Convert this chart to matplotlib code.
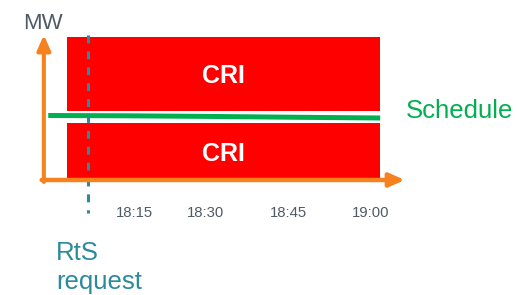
import numpy as np
import matplotlib
matplotlib.use('Agg')
import matplotlib.pyplot as plt

plt.rcParams['font.family'] = ['Liberation Sans', 'DejaVu Sans']

# x in minutes after 18:00, y in MW (arbitrary)
cri_blocks = [(0.0, 5.7), (6.93, 14.3)]   # (bottom, top)
cri_start, cri_end = 4.45, 61.7
schedule_t = [1.0, 15.0, 30.0, 45.0, 61.7]
schedule_mw = [6.45, 6.42, 6.36, 6.28, 6.2]
rts_time = 8.3
tick_pos = [16.8, 29.8, 45.0, 60.0]
tick_labels = ['18:15', '18:30', '18:45', '19:00']

orange = '#f5821f'
red = '#ff0000'
green = '#00b050'
teal = '#2b8a9b'
grey = '#4f5a64'

fig = plt.figure(figsize=(5.18, 2.95), dpi=100)
ax = fig.add_axes([0, 0, 1, 1])
ax.set_xlim(-7.82, 86.9)
ax.set_ylim(-11.5, 18.0)
ax.axis('off')

for bottom, top in cri_blocks:
    ax.bar(cri_start, top - bottom, width=cri_end - cri_start, bottom=bottom,
           align='edge', color=red, zorder=1)
    ax.text((cri_start + cri_end) / 2, (bottom + top) / 2, 'CRI', color='white',
            fontsize=18, fontweight='bold', ha='center', va='center_baseline', zorder=5)

ax.plot(schedule_t, schedule_mw, color=green, lw=3.6, solid_capstyle='butt', zorder=2)
ax.text(66.4, 6.2, 'Schedule', color=green, fontsize=18.5, ha='left', va='baseline')

ax.plot([rts_time, rts_time], [14.5, -3.3], color=teal, lw=2.2, dashes=(2.6, 2.6), zorder=3)
ax.text(2.4, -8.0, 'RtS', color=teal, fontsize=18.5, ha='left', va='baseline')
ax.text(2.4, -10.85, 'request', color=teal, fontsize=18.5, ha='left', va='baseline')

# axes arrows
ax.annotate('', xy=(0.2, 14.5), xytext=(0.2, -0.2),
            arrowprops=dict(arrowstyle='-|>,head_length=0.45,head_width=0.2',
                            color=orange, lw=2.9, mutation_scale=20,
                            shrinkA=0, shrinkB=0), zorder=4)
ax.annotate('', xy=(66.2, 0.0), xytext=(-0.2, 0.0),
            arrowprops=dict(arrowstyle='-|>,head_length=0.45,head_width=0.2',
                            color=orange, lw=3.2, mutation_scale=20,
                            shrinkA=0, shrinkB=0), zorder=4)
ax.text(-3.6, 15.07, 'MW', color=grey, fontsize=16, ha='left', va='baseline')

for pos, lab in zip(tick_pos, tick_labels):
    ax.text(pos, -3.7, lab, color=grey, fontsize=10.7, ha='center', va='baseline')

fig.savefig('out.png', dpi=100)
